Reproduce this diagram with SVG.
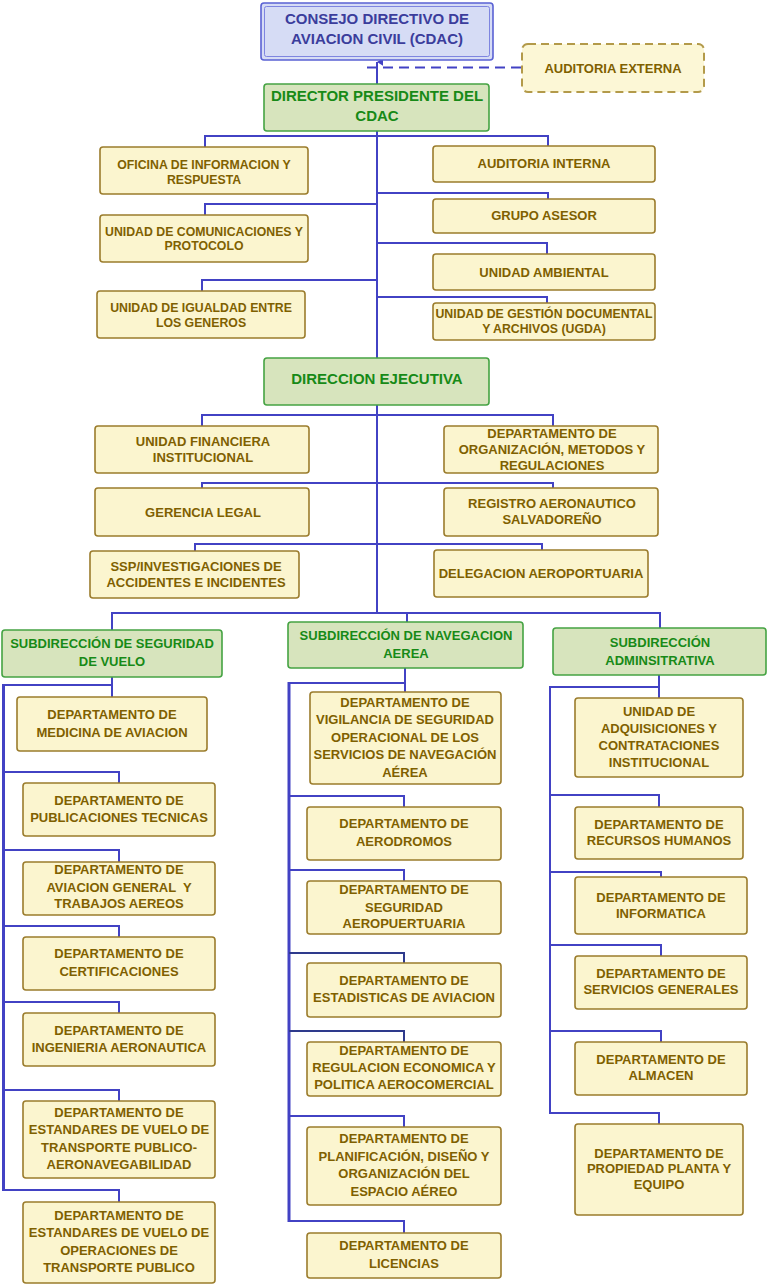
<svg xmlns="http://www.w3.org/2000/svg" width="768" height="1288" viewBox="0 0 768 1288">
<style>
text{font-family:"Liberation Sans",Arial,sans-serif;font-weight:bold;text-anchor:middle}
.y rect{fill:#fbf5cf;stroke:#9b7c2c;stroke-width:1.6}
.y text{fill:#7f6000;font-size:13px}
.s text{font-size:12.3px}
.g rect{fill:#d7e4bd;stroke:#45a343;stroke-width:1.6}
.g text{fill:#178a17;font-size:13px}
.big text{font-size:15px}
.c{fill:none;stroke:#4242c4;stroke-width:2}
.n{stroke:#2e3a8c}
.sp{stroke-width:3}
</style>
<defs>
<marker id="ah" viewBox="0 0 10 10" refX="5" refY="2" markerWidth="8" markerHeight="8" orient="auto-start-reverse" markerUnits="userSpaceOnUse">
<path d="M0,10 L5,2 L10,10 Z" fill="#4242c4"/>
</marker>
</defs>
<g id="connectors">
<path class="c" d="M377,612 V62" marker-end="url(#ah)" stroke-width="2.5"/>
<path class="c" d="M367,67.5 H521" stroke-dasharray="10,6"/>
<path class="c" d="M205,147 V136 H548 V146"/>
<path class="c" d="M377,193 H548 V199"/>
<path class="c" d="M377,204 H205 V215"/>
<path class="c" d="M377,243 H547 V254"/>
<path class="c" d="M377,280 H202 V291"/>
<path class="c" d="M377,297 H547 V303"/>
<path class="c" d="M202,426 V415 H553 V426"/>
<path class="c" d="M202,488 V483 H553 V488"/>
<path class="c" d="M195,551 V544 H542 V550"/>
<path class="c" d="M112,630 V613 H660 V628"/>
<path class="c" d="M407,613 V622"/>
<path class="c" d="M112,677 V697"/>
<path class="c" d="M112,685 H3.5"/>
<path class="c sp" d="M3.5,684 V1191"/>
<path class="c" d="M3.5,1190 H119 V1202"/>
<path class="c" d="M3.5,772 H119 V783"/>
<path class="c" d="M3.5,850 H119 V862"/>
<path class="c" d="M3.5,926 H119 V937"/>
<path class="c" d="M3.5,1002 H119 V1013"/>
<path class="c" d="M3.5,1090 H119 V1101"/>
<path class="c" d="M405,668 V692"/>
<path class="c" d="M405,683 H289"/>
<path class="c sp" d="M289,682 V1222"/>
<path class="c" d="M289,1221 H404 V1233"/>
<path class="c" d="M289,796 H404 V807"/>
<path class="c" d="M289,870 H404 V881"/>
<path class="c n" d="M289,953 H404 V963"/>
<path class="c n" d="M289,1031 H404 V1042"/>
<path class="c" d="M289,1116 H404 V1127"/>
<path class="c" d="M659,675 V698"/>
<path class="c" d="M659,687 H550"/>
<path class="c" d="M550,686 V1114" stroke-width="2.5"/>
<path class="c" d="M550,1113 H659 V1124"/>
<path class="c" d="M550,795 H659 V807"/>
<path class="c" d="M550,872 H661 V877"/>
<path class="c" d="M550,945 H661 V956"/>
<path class="c" d="M550,1031 H661 V1042"/>
</g>
<g id="consejo">
<rect x="261" y="3" width="232" height="57" rx="3" fill="#d6dcf5" stroke="#5a62d4" stroke-width="1.6"/>
<rect x="264.5" y="6.5" width="225" height="50" rx="2" fill="none" stroke="#7e85e0" stroke-width="1"/>
<text x="377" y="23.5" font-size="15" fill="#3b3d9c">CONSEJO DIRECTIVO DE</text>
<text x="377" y="43.5" font-size="15" fill="#3b3d9c">AVIACION CIVIL (CDAC)</text>
</g>
<g id="auditoria-externa" class="y">
<rect x="522" y="44" width="182" height="48" rx="6" fill="#fcf7d6" stroke="#b39a4a" stroke-width="2" stroke-dasharray="8,5" style="fill:#fcf7d6;stroke:#b39a4a;stroke-width:2"/>
<text x="613" y="72.5">AUDITORIA EXTERNA</text>
</g>
<g id="director" class="g big">
<rect x="264" y="84" width="225" height="47" rx="3"/>
<text x="377" y="100.5">DIRECTOR PRESIDENTE DEL</text>
<text x="377" y="120.5">CDAC</text>
</g>
<g id="oficina" class="y s">
<rect x="100" y="147" width="208" height="47" rx="3"/>
<text x="204" y="168.5">OFICINA DE INFORMACION Y</text>
<text x="204" y="183.5">RESPUESTA</text>
</g>
<g id="auditoria-interna" class="y">
<rect x="433" y="146" width="222" height="36" rx="3"/>
<text x="544" y="167.5">AUDITORIA INTERNA</text>
</g>
<g id="grupo-asesor" class="y">
<rect x="433" y="199" width="222" height="34" rx="3"/>
<text x="544" y="219.5">GRUPO ASESOR</text>
</g>
<g id="comunicaciones" class="y s">
<rect x="100" y="215" width="208" height="47" rx="3"/>
<text x="204" y="235.5">UNIDAD DE COMUNICACIONES Y</text>
<text x="204" y="249.5">PROTOCOLO</text>
</g>
<g id="ambiental" class="y">
<rect x="433" y="254" width="222" height="36" rx="3"/>
<text x="544" y="276.5">UNIDAD AMBIENTAL</text>
</g>
<g id="igualdad" class="y s">
<rect x="97" y="291" width="208" height="47" rx="3"/>
<text x="201" y="311.5">UNIDAD DE IGUALDAD ENTRE</text>
<text x="201" y="326.5">LOS GENEROS</text>
</g>
<g id="ugda" class="y s">
<rect x="433" y="303" width="222" height="37" rx="3"/>
<text x="544" y="317.5">UNIDAD DE GESTIÓN DOCUMENTAL</text>
<text x="544" y="332.5">Y ARCHIVOS (UGDA)</text>
</g>
<g id="direccion-ejecutiva" class="g big">
<rect x="264" y="358" width="225" height="47" rx="3"/>
<text x="377" y="383.5">DIRECCION EJECUTIVA</text>
</g>
<g id="financiera" class="y">
<rect x="95" y="426" width="214" height="47" rx="3"/>
<text x="203" y="445.5">UNIDAD FINANCIERA</text>
<text x="203" y="461.5">INSTITUCIONAL</text>
</g>
<g id="organizacion" class="y">
<rect x="444" y="426" width="214" height="47" rx="3"/>
<text x="552" y="437.5">DEPARTAMENTO DE</text>
<text x="552" y="453.5">ORGANIZACIÓN, METODOS Y</text>
<text x="552" y="469.5">REGULACIONES</text>
</g>
<g id="gerencia-legal" class="y">
<rect x="95" y="488" width="214" height="48" rx="3"/>
<text x="203" y="516.5">GERENCIA LEGAL</text>
</g>
<g id="registro" class="y">
<rect x="444" y="488" width="214" height="48" rx="3"/>
<text x="552" y="507.5">REGISTRO AERONAUTICO</text>
<text x="552" y="523.5">SALVADOREÑO</text>
</g>
<g id="ssp" class="y">
<rect x="90" y="551" width="209" height="47" rx="3"/>
<text x="196" y="570.5">SSP/INVESTIGACIONES DE</text>
<text x="196" y="586.5">ACCIDENTES E INCIDENTES</text>
</g>
<g id="delegacion" class="y">
<rect x="434" y="550" width="214" height="47" rx="3"/>
<text x="541" y="577.5">DELEGACION AEROPORTUARIA</text>
</g>
<g id="sub-seguridad" class="g">
<rect x="2" y="630" width="220" height="47" rx="3"/>
<text x="112" y="647.5">SUBDIRECCIÓN DE SEGURIDAD</text>
<text x="112" y="665.5">DE VUELO</text>
</g>
<g id="sub-navegacion" class="g">
<rect x="288" y="622" width="235" height="46" rx="3"/>
<text x="406" y="639.5">SUBDIRECCIÓN DE NAVEGACION</text>
<text x="406" y="657.5">AEREA</text>
</g>
<g id="sub-administrativa" class="g">
<rect x="553" y="628" width="213" height="47" rx="3"/>
<text x="660" y="646.5">SUBDIRECCIÓN</text>
<text x="660" y="664.5">ADMINSITRATIVA</text>
</g>
<g id="medicina" class="y">
<rect x="17" y="697" width="190" height="54" rx="3"/>
<text x="112" y="718.5">DEPARTAMENTO DE</text>
<text x="112" y="736.5">MEDICINA DE AVIACION</text>
</g>
<g id="publicaciones" class="y">
<rect x="23" y="783" width="192" height="53" rx="3"/>
<text x="119" y="804.5">DEPARTAMENTO DE</text>
<text x="119" y="821.5">PUBLICACIONES TECNICAS</text>
</g>
<g id="aviacion-general" class="y">
<rect x="23" y="862" width="192" height="53" rx="3"/>
<text x="119" y="873.5">DEPARTAMENTO DE</text>
<text x="119" y="891.5" xml:space="preserve">AVIACION GENERAL  Y</text>
<text x="119" y="907.5">TRABAJOS AEREOS</text>
</g>
<g id="certificaciones" class="y">
<rect x="23" y="937" width="192" height="53" rx="3"/>
<text x="119" y="957.5">DEPARTAMENTO DE</text>
<text x="119" y="975.5">CERTIFICACIONES</text>
</g>
<g id="ingenieria" class="y">
<rect x="23" y="1013" width="192" height="53" rx="3"/>
<text x="119" y="1034.5">DEPARTAMENTO DE</text>
<text x="119" y="1051.5">INGENIERIA AERONAUTICA</text>
</g>
<g id="estandares-aeronavegabilidad" class="y">
<rect x="23" y="1101" width="192" height="77" rx="3"/>
<text x="119" y="1116.5">DEPARTAMENTO DE</text>
<text x="119" y="1134">ESTANDARES DE VUELO DE</text>
<text x="119" y="1151.5">TRANSPORTE PUBLICO-</text>
<text x="119" y="1168.5">AERONAVEGABILIDAD</text>
</g>
<g id="estandares-operaciones" class="y">
<rect x="23" y="1202" width="192" height="81" rx="3"/>
<text x="119" y="1219.5">DEPARTAMENTO DE</text>
<text x="119" y="1236.5">ESTANDARES DE VUELO DE</text>
<text x="119" y="1254.5">OPERACIONES DE</text>
<text x="119" y="1271.5">TRANSPORTE PUBLICO</text>
</g>
<g id="vigilancia" class="y">
<rect x="310" y="692" width="191" height="92" rx="3"/>
<text x="405" y="706.5">DEPARTAMENTO DE</text>
<text x="405" y="723.5">VIGILANCIA DE SEGURIDAD</text>
<text x="405" y="741.5">OPERACIONAL DE LOS</text>
<text x="405" y="758.5">SERVICIOS DE NAVEGACIÓN</text>
<text x="405" y="776.5">AÉREA</text>
</g>
<g id="aerodromos" class="y">
<rect x="307" y="807" width="194" height="53" rx="3"/>
<text x="404" y="827.5">DEPARTAMENTO DE</text>
<text x="404" y="845.5">AERODROMOS</text>
</g>
<g id="seguridad-aeropuertaria" class="y">
<rect x="307" y="881" width="194" height="53" rx="3"/>
<text x="404" y="893.5">DEPARTAMENTO DE</text>
<text x="404" y="911.5">SEGURIDAD</text>
<text x="404" y="927.5">AEROPUERTUARIA</text>
</g>
<g id="estadisticas" class="y">
<rect x="307" y="963" width="194" height="54" rx="3"/>
<text x="404" y="984.5">DEPARTAMENTO DE</text>
<text x="404" y="1001.5">ESTADISTICAS DE AVIACION</text>
</g>
<g id="regulacion" class="y">
<rect x="307" y="1042" width="194" height="54" rx="3"/>
<text x="404" y="1054.5">DEPARTAMENTO DE</text>
<text x="404" y="1071.5">REGULACION ECONOMICA Y</text>
<text x="404" y="1088.5">POLITICA AEROCOMERCIAL</text>
</g>
<g id="planificacion" class="y">
<rect x="307" y="1127" width="194" height="78" rx="3"/>
<text x="404" y="1142.5">DEPARTAMENTO DE</text>
<text x="404" y="1160.5">PLANIFICACIÓN, DISEÑO Y</text>
<text x="404" y="1177.5">ORGANIZACIÓN DEL</text>
<text x="404" y="1195.5">ESPACIO AÉREO</text>
</g>
<g id="licencias" class="y">
<rect x="307" y="1233" width="194" height="45" rx="3"/>
<text x="404" y="1249.5">DEPARTAMENTO DE</text>
<text x="404" y="1267.5">LICENCIAS</text>
</g>
<g id="adquisiciones" class="y">
<rect x="575" y="698" width="168" height="79" rx="3"/>
<text x="659" y="715.5">UNIDAD DE</text>
<text x="659" y="732.5">ADQUISICIONES Y</text>
<text x="659" y="749.5">CONTRATACIONES</text>
<text x="659" y="766.5">INSTITUCIONAL</text>
</g>
<g id="recursos-humanos" class="y">
<rect x="575" y="807" width="168" height="52" rx="3"/>
<text x="659" y="828.5">DEPARTAMENTO DE</text>
<text x="659" y="844.5">RECURSOS HUMANOS</text>
</g>
<g id="informatica" class="y">
<rect x="575" y="877" width="172" height="57" rx="3"/>
<text x="661" y="901.5">DEPARTAMENTO DE</text>
<text x="661" y="917.5">INFORMATICA</text>
</g>
<g id="servicios-generales" class="y">
<rect x="575" y="956" width="172" height="53" rx="3"/>
<text x="661" y="977.5">DEPARTAMENTO DE</text>
<text x="661" y="993.5">SERVICIOS GENERALES</text>
</g>
<g id="almacen" class="y">
<rect x="575" y="1042" width="172" height="53" rx="3"/>
<text x="661" y="1063.5">DEPARTAMENTO DE</text>
<text x="661" y="1079.5">ALMACEN</text>
</g>
<g id="propiedad" class="y">
<rect x="575" y="1124" width="168" height="91" rx="3"/>
<text x="659" y="1157.5">DEPARTAMENTO DE</text>
<text x="659" y="1172.5">PROPIEDAD PLANTA Y</text>
<text x="659" y="1188.5">EQUIPO</text>
</g>
</svg>
